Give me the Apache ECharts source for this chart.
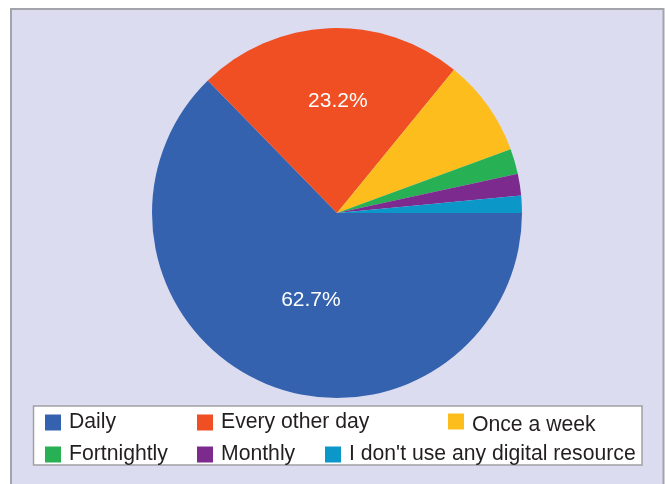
<!DOCTYPE html>
<html>
<head>
<meta charset="utf-8">
<script src="https://cdn.jsdelivr.net/npm/echarts@6/dist/echarts.min.js"></script>
<style>
html,body{margin:0;padding:0;background:#ffffff;}
#chart{width:665px;height:484px;}
</style>
</head>
<body>
<div id="chart"></div>
<script>
// Data
const categories = ["Daily", "Every other day", "Once a week", "Fortnightly", "Monthly", "I don't use any digital resource"];
const values = [62.7, 23.2, 8.5, 2.2, 1.9, 1.5];
const labelShown = [true, true, false, false, false, false];
const colors = ["#3562ae", "#ef4f23", "#fdbe1d", "#28b154", "#7d2a8e", "#0b98c8"];

const labelOffsets = [[11, -1], [5, -16], [0, 0], [0, 0], [0, 0], [0, 0]];
const legendPos = [
  {left: 45, top: 412, dy: 0},
  {left: 197, top: 412, dy: 0},
  {left: 448, top: 407, dy: 8},
  {left: 45, top: 444, dy: 0},
  {left: 197, top: 444, dy: 0},
  {left: 325, top: 444, dy: 0}
];
const FONT = "'Liberation Sans', Arial, sans-serif";

const chart = echarts.init(document.getElementById('chart'), null, {renderer: 'canvas'});

const legends = categories.map((name, i) => ({
  data: [name],
  left: legendPos[i].left,
  top: legendPos[i].top,
  padding: 0,
  itemWidth: 16,
  itemHeight: 16,
  icon: 'rect',
  selectedMode: false,
  formatter: n => '{t|' + n + '}',
  textStyle: {
    fontFamily: FONT,
    fontSize: 21,
    color: '#231f20',
    rich: {
      t: {
        fontFamily: FONT,
        fontSize: 21.2,
        color: '#231f20',
        lineHeight: 16,
        padding: [legendPos[i].dy, 0, 0, 3]
      }
    }
  }
}));

const option = {
  animation: false,
  backgroundColor: '#ffffff',
  color: colors,
  graphic: [
    {
      type: 'rect', z: -10,
      shape: {x: 11, y: 9, width: 652.5, height: 490},
      style: {fill: '#dbdcf0', stroke: '#a3a4aa', lineWidth: 2}
    },
    {
      type: 'rect', z: -9,
      shape: {x: 33.5, y: 406, width: 608.5, height: 59},
      style: {fill: '#ffffff', stroke: '#a0a0a4', lineWidth: 1.5}
    }
  ],
  legend: legends,
  series: [{
    type: 'pie',
    center: [337, 213],
    radius: [0, 185],
    startAngle: 0,
    clockwise: true,
    avoidLabelOverlap: false,
    label: {
      position: 'inside',
      color: '#ffffff',
      fontFamily: FONT,
      fontSize: 21,
      formatter: p => p.value.toFixed(1) + '%'
    },
    labelLine: {show: false},
    emphasis: {disabled: true},
    itemStyle: {borderWidth: 0},
    data: categories.map((name, i) => ({
      name: name,
      value: values[i],
      label: {show: labelShown[i], offset: labelOffsets[i]}
    }))
  }]
};
chart.setOption(option);
</script>
</body>
</html>
